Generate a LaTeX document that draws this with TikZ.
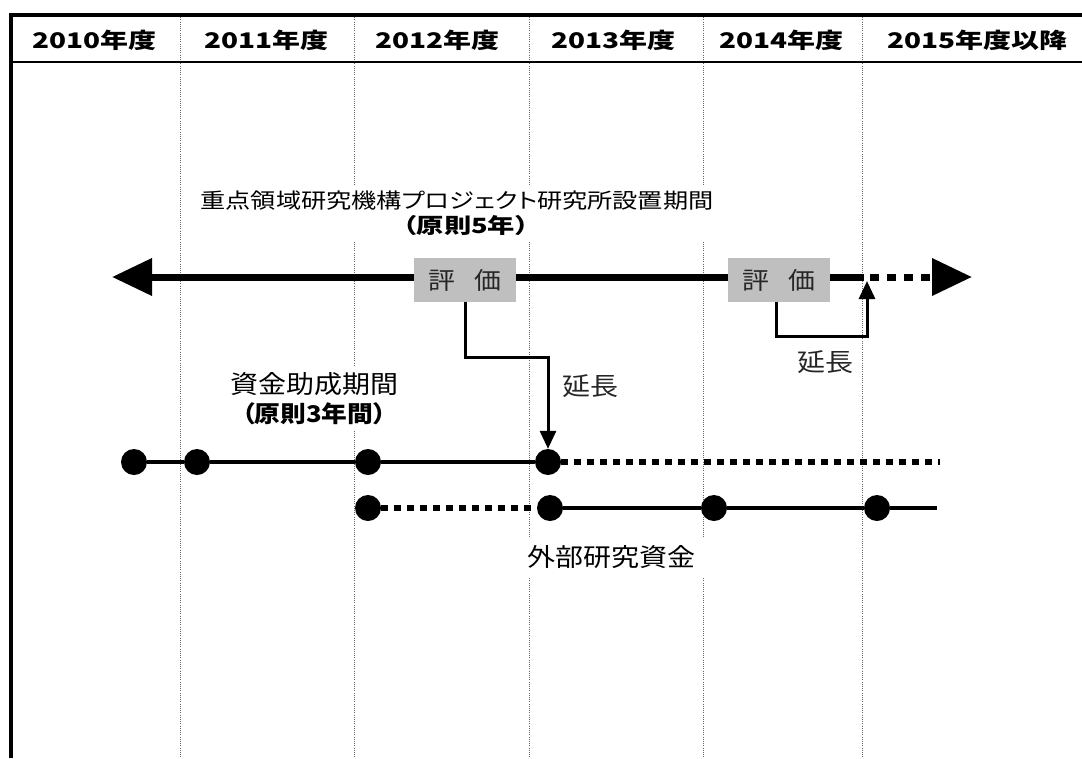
\documentclass[tikz,border=0pt]{standalone}
\usepackage{fontspec}
\usetikzlibrary{arrows.meta}
\newfontfamily\jpwide[FakeStretch=1.3,RawFeature=+palt]{Noto Sans CJK JP}
\newfontfamily\jptitle[FakeStretch=1.2,RawFeature=+palt]{Noto Sans CJK JP}
\newfontfamily\jpmid[FakeStretch=1.12,RawFeature=+palt]{Noto Sans CJK JP}

\begin{document}
\begin{tikzpicture}[x=1pt, y=-1pt,
  grid/.style={black!60, line width=0.8pt, dash pattern=on 1pt off 1.2pt},
  dot/.style={circle, fill=black, inner sep=0pt, minimum size=26pt},
  evbox/.style={fill=black!25, minimum width=102pt, minimum height=44pt, inner sep=0pt,
    font=\jpmid\fontsize{24}{28}\selectfont, text=black!85},
  link/.style={line width=3pt, -{Triangle[width=16pt,length=18pt]}},
  lbl/.style={fill=white, inner sep=6pt},
  thinlbl/.style={font=\jpmid\fontsize{25}{29}\selectfont, text=black!85},
  solidline/.style={line width=4.5pt},
  dotline/.style={line width=6pt, dash pattern=on 6.5pt off 6.5pt},
  big/.style={line width=7pt}]
\useasboundingbox (0,0) rectangle (1082,758);
\foreach \x in {180,354,529,703,862}
  \draw[grid] (\x,15) -- (\x,758);
\draw[line width=3.5pt] (11,758) -- (11,15) -- (1082,15);
\draw[line width=2pt] (11,62) -- (1082,62);
\foreach \x/\t [count=\i] in {94/2010年度,266/2011年度,437/2012年度,613/2013年度,781/2014年度,977/2015年度以降}
  \node[font=\jpwide\bfseries\fontsize{21.5}{26}\selectfont] (yr\i) at (\x,40) {\t};

\node[lbl, align=center, font=\jptitle\fontsize{21}{25}\selectfont] (proj) at (457,213)
  {重点領域研究機構プロジェクト研究所設置期間\\\hspace*{18pt}{\jpwide\bfseries\fontsize{21}{25}\selectfont （原則5年）}};
\coordinate (lt) at (112,277);
\coordinate (mr) at (864,277);
\coordinate (md) at (870,277);
\coordinate (rt) at (972,277);
\draw[big, {Triangle[width=36pt,length=40pt]}-] (lt) -- (mr);
\draw[big, dash pattern=on 9pt off 8pt, -{Triangle[width=36pt,length=40pt]}] (md) -- (rt);
\node[evbox] (ev1) at (465,280) {評\hspace{0.8em}価};
\node[evbox] (ev2) at (779,280) {評\hspace{0.8em}価};

\node[dot] (b1) at (134,462) {};
\node[dot] (b2) at (197,462) {};
\node[dot] (b3) at (368,462) {};
\node[dot] (b4) at (548,462) {};
\coordinate (e1) at (940,462);
\draw[solidline] (b1) -- (b2) -- (b3) -- (b4);
\draw[dotline] (b4) -- (e1);

\node[dot] (c1) at (368,508) {};
\node[dot] (c2) at (550,508) {};
\node[dot] (c3) at (714,508) {};
\node[dot] (c4) at (877,508) {};
\coordinate (e2) at (937,508);
\draw[dotline] (c1) -- (c2);
\draw[solidline] (c2) -- (c3) -- (c4) -- (e2);

\coordinate (k1) at (548,357);
\draw[link] (ev1.south) |- (k1) -- (b4.north);
\coordinate (k2) at (776,336);
\coordinate (up2) at (867,281);
\draw[link] (ev2.south -| k2) -- (k2) -| (up2);
\node[thinlbl] (ext1) at (590,386) {延長};
\node[thinlbl] (ext2) at (825,362) {延長};

\node[lbl, align=center, font=\jpmid\fontsize{25}{29}\selectfont] (fund) at (314,399)
  {資金助成期間\\{\bfseries\fontsize{23}{29}\selectfont （原則3年間）}};
\node[lbl, inner xsep=10pt, inner ysep=8pt, font=\jpmid\fontsize{25}{29}\selectfont] (outer) at (611,557) {外部研究資金};
\end{tikzpicture}
\end{document}
